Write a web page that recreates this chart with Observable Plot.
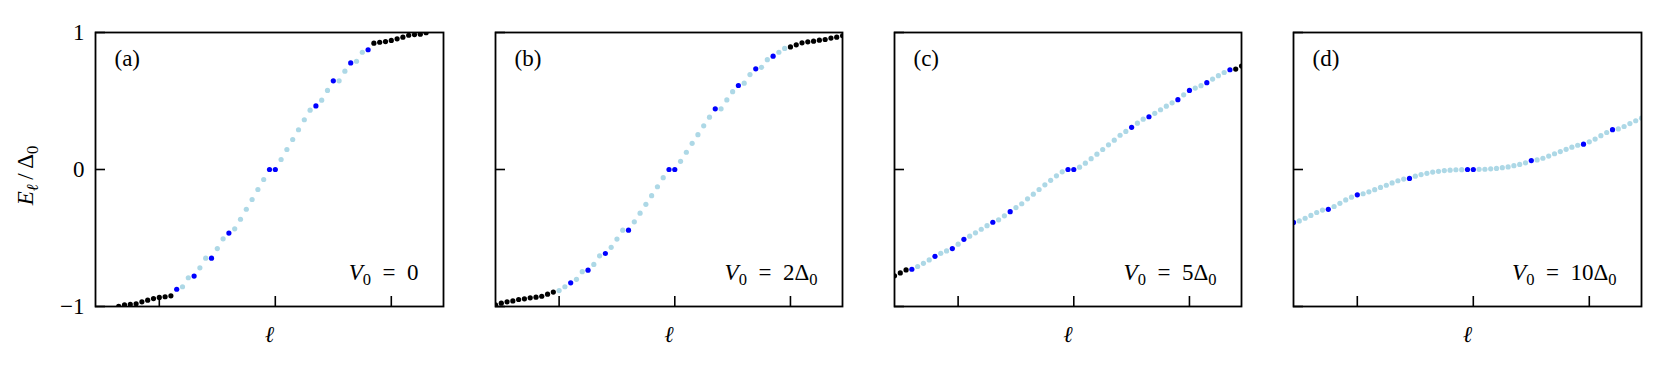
<!DOCTYPE html>
<html>
<head>
<meta charset="utf-8">
<script src="https://cdn.jsdelivr.net/npm/d3@7"></script>
<script src="https://cdn.jsdelivr.net/npm/@observablehq/plot@0.6"></script>
<style>
  body { margin: 0; background: #fff; }
  #chart { position: relative; width: 1661px; height: 365px; background: #fff; overflow: hidden; }
  #chart svg { position: absolute; top: 0; }
  #chart text { white-space: pre; }
</style>
</head>
<body>
<div id="chart"></div>
<script>
// ---------------- data ----------------
const ell = d3.range(-1, 60); // level index ℓ (axis is unlabelled)
const xTicks = [10, 30, 50];
const yTicks = [-1, 0, 1];
const yTickLabels = ["−1", "0", "1"];
const panelTags = ["(a)", "(b)", "(c)", "(d)"];
const potentialLabels = ["~V~_0  =  0", "~V~_0  =  2Δ_0", "~V~_0  =  5Δ_0", "~V~_0  =  10Δ_0"];
const xLabel = "~ℓ~";
const yLabel = "~E_ℓ~\u2009/\u2009Δ_0";

const energyA = [null, null, null, null,
  -0.998, -0.988, -0.985, -0.980, -0.966, -0.954, -0.942, -0.934, -0.929, -0.922,
  -0.874, -0.856, -0.790, -0.778, -0.718, -0.647, -0.647, -0.577, -0.506, -0.464,
  -0.433, -0.363, -0.290, -0.219, -0.146, -0.073, 0, 0,
  0.073, 0.146, 0.219, 0.290, 0.363, 0.433, 0.464, 0.506, 0.577, 0.647,
  0.647, 0.718, 0.778, 0.790, 0.856, 0.874,
  0.922, 0.929, 0.934, 0.942, 0.954, 0.966, 0.980, 0.985, 0.988, 0.998,
  null, null, null];
const energyB = [
  -0.988, -0.976, -0.966, -0.959, -0.949, -0.944, -0.937, -0.932, -0.925, -0.910, -0.895,
  -0.884, -0.856, -0.827, -0.802, -0.746, -0.735, -0.693, -0.630, -0.613, -0.568,
  -0.508, -0.443, -0.443, -0.382, -0.319, -0.254, -0.191, -0.126, -0.060,
  0, 0,
  0.060, 0.126, 0.191, 0.254, 0.319, 0.382, 0.443, 0.443, 0.508, 0.568,
  0.613, 0.630, 0.693, 0.735, 0.746, 0.802, 0.827, 0.856, 0.884,
  0.895, 0.910, 0.925, 0.932, 0.937, 0.944, 0.949, 0.959, 0.966, 0.976];
const energyC = [
  -0.776, -0.755, -0.733, -0.728, -0.708, -0.685, -0.660, -0.634, -0.612, -0.594,
  -0.577, -0.545, -0.510, -0.487, -0.462, -0.436, -0.410, -0.385, -0.367, -0.338,
  -0.308, -0.278, -0.250, -0.214, -0.180, -0.146, -0.112, -0.079, -0.046, -0.017,
  0, 0,
  0.017, 0.046, 0.079, 0.112, 0.146, 0.180, 0.214, 0.250, 0.278, 0.308,
  0.338, 0.367, 0.385, 0.410, 0.436, 0.462, 0.487, 0.510, 0.545, 0.577,
  0.594, 0.612, 0.634, 0.660, 0.685, 0.708, 0.728, 0.733, 0.755];
const energyD = [
  -0.386, -0.375, -0.356, -0.335, -0.314, -0.296, -0.291, -0.270, -0.247, -0.222,
  -0.202, -0.185, -0.177, -0.163, -0.147, -0.131, -0.115, -0.098, -0.082, -0.070,
  -0.065, -0.049, -0.037, -0.028, -0.019, -0.013, -0.008, -0.005, -0.002, -0.001,
  0, 0,
  0.001, 0.002, 0.005, 0.008, 0.013, 0.019, 0.028, 0.037, 0.049, 0.065,
  0.070, 0.082, 0.098, 0.115, 0.131, 0.147, 0.163, 0.177, 0.185, 0.202,
  0.222, 0.247, 0.270, 0.291, 0.296, 0.314, 0.335, 0.356, 0.375];

// state of each level: k = black, b = blue, l = light blue
const stateA = ("kkkkkkkkkkkkkk" + "bllbllbllbllllllbbllllllbllbllbllb" + "kkkkkkkkkkkkk").split("");
const stateB = ("kkkkkkkkkkk" + "llbllbllblllbllllllbbllllllblllbllbllbll" + "kkkkkkkkkk").split("");
const stateC = ("kkk" + "blllbllblbllllbllblllllllllbblllllllllbllbllllblbllblllb" + "kk").split("");
const stateD = ("blllllbllllbllllllllblllllllllbblllllllllbllllllllbllllblllll").split("");

const energies = [energyA, energyB, energyC, energyD];
const states = [stateA, stateB, stateC, stateD];

// ---------------- layout ----------------
const FONT = "'Liberation Serif', 'DejaVu Serif', serif";
const frameLeft = [95, 495, 894, 1293];
const frameWidth = [348, 347, 347, 348];
const colors = {l: "#add8e6", b: "#0000ff", k: "#000000"};

function richText(svg) {
  const ns = "http://www.w3.org/2000/svg";
  const SUB = 5;
  svg.querySelectorAll("text").forEach(el => {
    const s = el.textContent;
    if (!/[~_]/.test(s)) return;
    while (el.firstChild) el.removeChild(el.firstChild);
    const segs = [];
    let italic = false, subNext = false;
    for (const ch of s) {
      if (ch === "~") { italic = !italic; continue; }
      if (ch === "_") { subNext = true; continue; }
      const sub = subNext; subNext = false;
      const last = segs[segs.length - 1];
      if (last && last.italic === italic && last.sub === sub) last.text += ch;
      else segs.push({text: ch, italic, sub});
    }
    let shift = 0;
    for (const sg of segs) {
      const t = document.createElementNS(ns, "tspan");
      t.textContent = sg.text;
      if (sg.italic) t.setAttribute("font-style", "italic");
      if (sg.sub) t.setAttribute("font-size", "0.72em");
      const target = sg.sub ? SUB : 0;
      if (target !== shift) t.setAttribute("dy", (target - shift) + "px");
      shift = target;
      el.appendChild(t);
    }
  });
}

const chart = document.getElementById("chart");
for (let k = 0; k < 4; k++) {
  const rows = ell.map((l, i) => ({ell: l, E: energies[k][i], state: states[k][i]}))
                  .filter(d => d.E != null);
  const ml = k === 0 ? 95 : 20, mr = 12;
  const dots = ["l", "b", "k"].map(s =>
    Plot.dot(rows, {filter: d => d.state === s, x: "ell", y: "E", r: 2.6, fill: colors[s], clip: true}));
  const svg = Plot.plot({
    width: ml + frameWidth[k] + mr,
    height: 365,
    marginLeft: ml, marginRight: mr, marginTop: 32, marginBottom: 59,
    x: {domain: [-1, 59], axis: null},
    y: {domain: [-1, 1], axis: null},
    style: {fontFamily: FONT, fontSize: "23px", background: "#fff", color: "#000"},
    marks: [
      ...dots,
      Plot.axisX({ticks: xTicks, tickSize: -10, tickFormat: () => "", strokeWidth: 1.6, label: null}),
      Plot.axisY({ticks: yTicks, tickSize: -10, tickFormat: () => "", strokeWidth: 1.6, label: null}),
      k === 0 ? Plot.axisY({ticks: yTicks, tickSize: 0, tickPadding: 11, fontSize: 23,
                            tickFormat: d => yTickLabels[yTicks.indexOf(d)], label: null}) : null,
      Plot.frame({stroke: "#000", strokeWidth: 1.8}),
      Plot.text([panelTags[k]], {text: d => d, frameAnchor: "top-left", dx: 19, dy: 26, textAnchor: "start", lineAnchor: "middle", fontSize: 23}),
      Plot.text([potentialLabels[k]], {text: d => d, frameAnchor: "bottom-right", dx: -25, dy: -34, textAnchor: "end", lineAnchor: "middle", fontSize: 23}),
      Plot.text([xLabel], {text: d => d, frameAnchor: "bottom", dy: 35, textAnchor: "middle", lineAnchor: "bottom", fontSize: 23}),
      k === 0 ? Plot.text([yLabel], {text: d => d, frameAnchor: "left", dx: -70, dy: 6, rotate: -90,
                                     textAnchor: "middle", lineAnchor: "middle", fontSize: 23}) : null
    ]
  });
  svg.style.left = (frameLeft[k] - ml) + "px";
  richText(svg);
  chart.appendChild(svg);
}
</script>
</body>
</html>
